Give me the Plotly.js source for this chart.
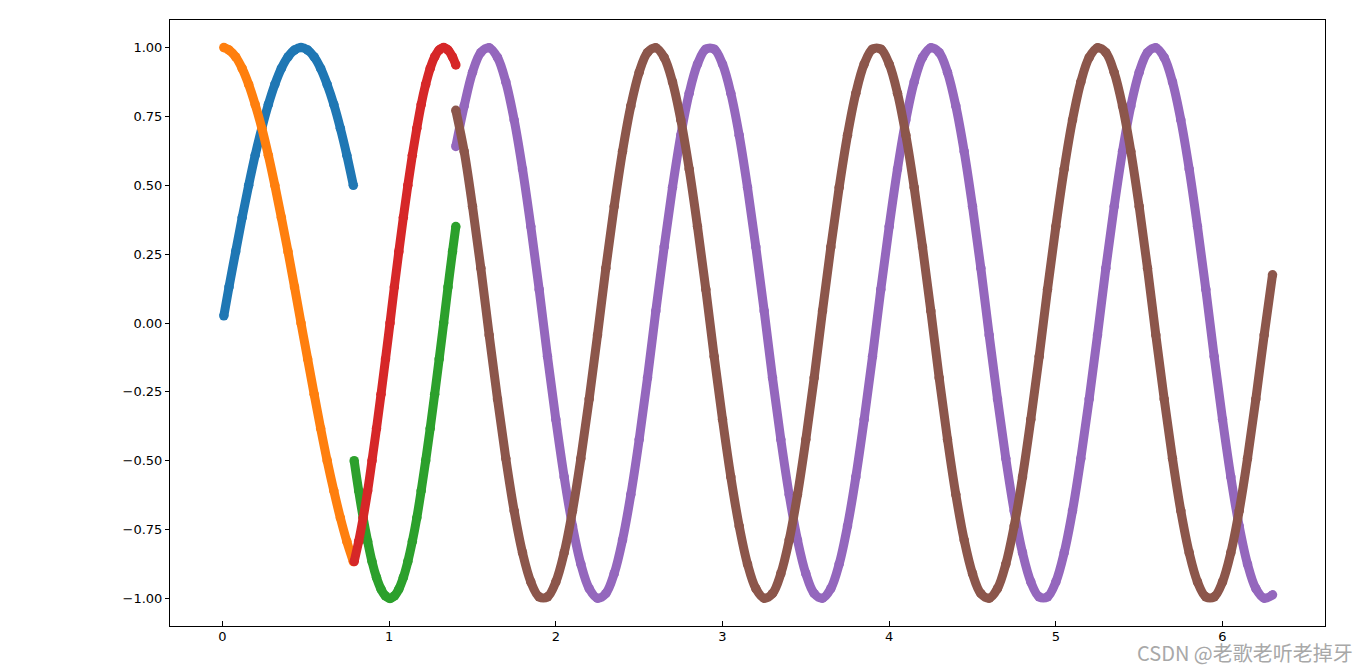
<!DOCTYPE html>
<html><head><meta charset="utf-8">
<script src="https://cdn.plot.ly/plotly-3.0.1.min.js"></script>
<style>html,body{margin:0;padding:0;background:#fff;}#chart{width:1366px;height:671px;}</style>
</head><body><div id="chart"></div>
<script>
// Segment 1 (blue / orange)
const xA = [0.008,0.039,0.079,0.118,0.157,0.196,0.236,0.275,0.314,0.353,0.393,0.432,0.471,0.511,0.550,0.589,0.628,0.668,0.707,0.746,0.785];
const blueY = [0.026,0.131,0.259,0.383,0.500,0.609,0.707,0.793,0.866,0.924,0.966,0.991,1.000,0.991,0.966,0.924,0.866,0.793,0.707,0.609,0.500];
const orangeY = [1.000,0.991,0.966,0.924,0.866,0.793,0.707,0.609,0.500,0.383,0.259,0.131,0.000,-0.131,-0.259,-0.383,-0.500,-0.609,-0.707,-0.793,-0.866];

// Segment 2 (green / red)
const xB = [0.790,0.817,0.844,0.871,0.897,0.924,0.951,0.978,1.005,1.031,1.058,1.085,1.112,1.139,1.166,1.192,1.219,1.246,1.273,1.300,1.327,1.353,1.380,1.400];
const greenY = [-0.500,-0.609,-0.707,-0.793,-0.866,-0.924,-0.966,-0.991,-1.000,-0.991,-0.966,-0.924,-0.866,-0.793,-0.707,-0.609,-0.500,-0.383,-0.259,-0.131,0.000,0.131,0.259,0.350];
const redY = [-0.866,-0.793,-0.707,-0.609,-0.500,-0.383,-0.259,-0.131,0.000,0.131,0.259,0.383,0.500,0.609,0.707,0.793,0.866,0.924,0.966,0.991,1.000,0.991,0.966,0.937];

// Segment 3 (purple / brown)
const xC = [1.40,1.45,1.50,1.55,1.60,1.65,1.70,1.75,1.80,1.85,
1.90,1.95,2.00,2.05,2.10,2.15,2.20,2.25,2.30,2.35,
2.40,2.45,2.50,2.55,2.60,2.65,2.70,2.75,2.80,2.85,
2.90,2.95,3.00,3.05,3.10,3.15,3.20,3.25,3.30,3.35,
3.40,3.45,3.50,3.55,3.60,3.65,3.70,3.75,3.80,3.85,
3.90,3.95,4.00,4.05,4.10,4.15,4.20,4.25,4.30,4.35,
4.40,4.45,4.50,4.55,4.60,4.65,4.70,4.75,4.80,4.85,
4.90,4.95,5.00,5.05,5.10,5.15,5.20,5.25,5.30,5.35,
5.40,5.45,5.50,5.55,5.60,5.65,5.70,5.75,5.80,5.85,
5.90,5.95,6.00,6.05,6.10,6.15,6.20,6.25,6.30];
const purpleY = [0.641,0.788,0.910,0.982,0.999,0.964,0.875,0.737,0.559,0.350,
0.122,-0.122,-0.350,-0.559,-0.737,-0.875,-0.964,-0.999,-0.982,-0.910,
-0.788,-0.623,-0.423,-0.199,0.044,0.276,0.492,0.682,0.834,0.940,
0.994,0.994,0.940,0.834,0.682,0.492,0.276,0.044,-0.199,-0.423,
-0.623,-0.788,-0.910,-0.982,-0.999,-0.964,-0.875,-0.737,-0.559,-0.350,
-0.122,0.122,0.350,0.559,0.737,0.875,0.964,0.999,0.982,0.910,
0.788,0.623,0.423,0.199,-0.044,-0.276,-0.492,-0.682,-0.834,-0.940,
-0.994,-0.994,-0.940,-0.834,-0.682,-0.492,-0.276,-0.044,0.199,0.423,
0.623,0.788,0.910,0.982,0.999,0.964,0.875,0.737,0.559,0.350,
0.122,-0.122,-0.350,-0.559,-0.737,-0.875,-0.964,-0.999,-0.987];
const brownY = [0.772,0.623,0.423,0.199,-0.044,-0.276,-0.492,-0.682,-0.834,-0.940,
-0.994,-0.994,-0.940,-0.834,-0.682,-0.492,-0.276,-0.044,0.199,0.423,
0.623,0.788,0.910,0.982,0.999,0.964,0.875,0.737,0.559,0.350,
0.122,-0.122,-0.350,-0.559,-0.737,-0.875,-0.964,-0.999,-0.982,-0.910,
-0.788,-0.623,-0.423,-0.199,0.044,0.276,0.492,0.682,0.834,0.940,
0.994,0.994,0.940,0.834,0.682,0.492,0.276,0.044,-0.199,-0.423,
-0.623,-0.788,-0.910,-0.982,-0.999,-0.964,-0.875,-0.737,-0.559,-0.350,
-0.122,0.122,0.350,0.559,0.737,0.875,0.964,0.999,0.982,0.910,
0.788,0.623,0.423,0.199,-0.044,-0.276,-0.492,-0.682,-0.834,-0.940,
-0.994,-0.994,-0.940,-0.834,-0.682,-0.492,-0.276,-0.044,0.175];

const watermark = "CSDN @老歌老听老掉牙";

function tr(x, y, color) {
  return {
    x: x, y: y, type: 'scatter', mode: 'lines+markers',
    line: {color: color, width: 9, shape: 'spline', smoothing: 1},
    marker: {color: color, size: 9.5},
    hoverinfo: 'skip', showlegend: false
  };
}

const data = [
  tr(xA, blueY, '#1f77b4'),
  tr(xA, orangeY, '#ff7f0e'),
  tr(xB, greenY, '#2ca02c'),
  tr(xB, redY, '#d62728'),
  tr(xC, purpleY, '#9467bd'),
  tr(xC, brownY, '#8c564b')
];

const tickfont = {family: 'DejaVu Sans', size: 13, color: '#000'};
const layout = {
  width: 1366, height: 671,
  margin: {l: 170, r: 41, t: 20, b: 45, pad: 0},
  paper_bgcolor: '#fff', plot_bgcolor: '#fff',
  showlegend: false,
  xaxis: {
    range: [-0.315, 6.615], tick0: 0, dtick: 1, tickformat: 'd',
    ticks: 'inside', ticklen: 5, tickwidth: 1, tickcolor: '#000',
    ticklabelstandoff: -2,
    showline: true, linecolor: '#000', linewidth: 1, mirror: true,
    showgrid: false, zeroline: false, tickfont: tickfont
  },
  yaxis: {
    range: [-1.1, 1.1], tick0: 0, dtick: 0.25, tickformat: '.2f',
    ticks: 'outside', ticklen: 4, tickwidth: 1, tickcolor: '#000',
    showline: true, linecolor: '#000', linewidth: 1, mirror: true,
    showgrid: false, zeroline: false, tickfont: tickfont
  },
  annotations: [{
    text: watermark, xref: 'paper', yref: 'paper',
    x: 0.9307, y: -0.0445, xanchor: 'center', yanchor: 'middle',
    showarrow: false,
    font: {family: 'Noto Sans CJK SC', size: 20, color: '#a8a8a8'}
  }]
};

Plotly.newPlot('chart', data, layout, {staticPlot: true, displayModeBar: false});
</script>
</body></html>
